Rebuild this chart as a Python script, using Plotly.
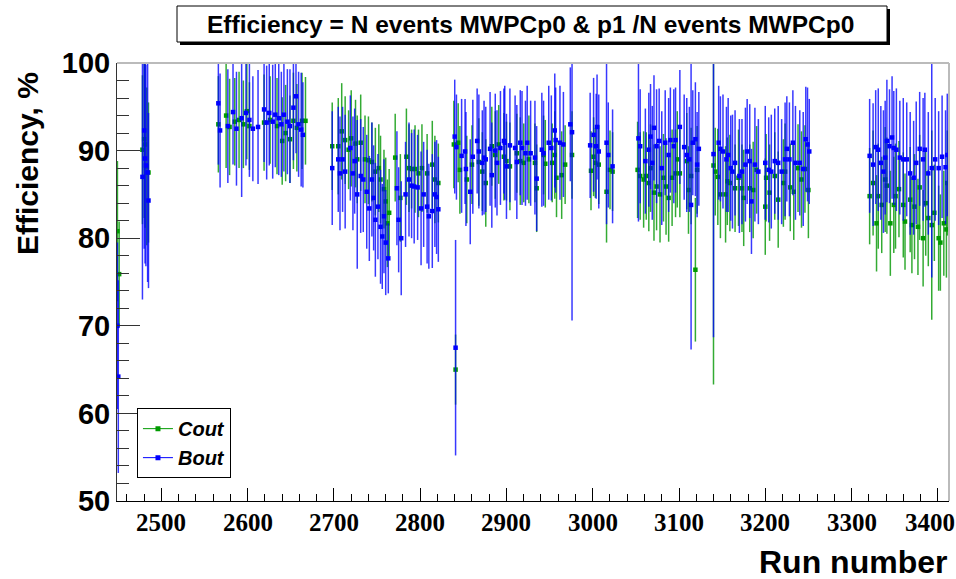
import plotly.graph_objects as go

# ---------------- data: Cout (green) ----------------
cout_run = [
    2449, 2451,
    2478, 2480, 2481, 2483, 2485,
    2566, 2575, 2579, 2585, 2590, 2595, 2599, 2602, 2619, 2626, 2634, 2640, 2644, 2649, 2653, 2657, 2663, 2667,
    2698, 2705, 2709, 2713, 2717, 2720, 2725, 2727, 2731, 2736, 2740, 2744, 2748, 2752, 2754, 2758, 2760, 2762, 2764,
    2771, 2777, 2784, 2787, 2790, 2794, 2798, 2802, 2808, 2814, 2817, 2821,
    2841,
    2839, 2844, 2846, 2854, 2860, 2868, 2872, 2876, 2883, 2887, 2891, 2897, 2900, 2904, 2912, 2916, 2920, 2926,
    2933, 2935, 2943, 2945, 2953, 2956, 2958, 2964, 2968, 2976,
    2998, 3001, 3003, 3007, 3016, 3020, 3023,
    3052, 3055, 3059, 3062, 3065, 3067, 3071, 3074, 3078, 3082, 3085, 3088, 3092, 3096, 3098, 3101, 3109, 3111,
    3114, 3119, 3121,
    3140, 3142, 3145, 3148, 3154, 3156, 3159, 3165, 3169, 3173, 3175, 3182, 3186, 3190, 3200, 3201, 3205, 3211,
    3215, 3221, 3223, 3229, 3233, 3238, 3242, 3246, 3250,
    3321, 3325, 3329, 3331, 3335, 3339, 3341, 3345, 3349, 3351, 3355, 3360, 3362, 3368, 3370, 3373, 3377, 3379,
    3383, 3386, 3389, 3393, 3396, 3401, 3403, 3407, 3410, 3411,
]
cout_eff = [
    80.8, 75.9,
    90.1, 91.3, 90.7, 88.2, 87.5,
    93.0, 94.0, 92.7, 93.3, 93.5, 93.0, 94.5, 92.8, 93.2, 93.5, 92.8, 91.1, 92.0, 91.3, 93.4, 92.6, 93.4, 93.4,
    90.5, 90.5, 92.2, 91.2, 90.1, 91.4, 90.8, 89.0, 90.9, 89.0, 88.9, 88.7, 87.6, 88.0, 86.7, 85.6, 84.2, 81.7, 82.9,
    89.2, 84.6, 89.3, 88.0, 87.9, 87.9, 87.4, 88.0, 87.4, 88.4, 86.7, 86.3,
    65.0,
    90.7, 90.9, 87.8, 86.7, 88.4, 88.7, 87.6, 86.3, 90.5, 89.5, 90.7, 89.3, 88.8, 88.2, 89.7, 88.8, 88.6, 89.0,
    88.6, 85.7, 89.5, 88.5, 88.6, 89.5, 86.9, 87.2, 88.4, 89.5,
    87.7, 89.3, 88.6, 88.4, 85.3, 87.8, 87.6,
    87.8, 87.1, 86.7, 87.1, 86.3, 88.0, 85.2, 85.9, 85.0, 86.9, 85.9, 84.6, 86.9, 87.4, 89.0, 87.4, 88.8, 85.5,
    87.1, 76.4, 87.8,
    88.3, 87.6, 87.0, 85.0, 85.0, 86.5, 86.3, 85.7, 86.9, 85.7, 84.6, 85.7, 85.5, 87.8, 83.6, 86.9, 85.2, 87.1,
    84.4, 86.3, 87.6, 85.8, 85.3, 88.0, 86.7, 87.9, 85.5,
    84.8, 86.3, 81.7, 84.8, 83.8, 86.7, 86.0, 81.7, 83.8, 84.8, 85.6, 83.8, 81.9, 84.4, 81.5, 83.6, 81.3, 85.8,
    80.0, 84.0, 82.3, 81.5, 82.9, 80.0, 79.5, 81.7, 81.0, 86.3,
]
cout_err = [
    8.0, 6.0,
    8.5, 9.0, 9.5, 9.0, 8.0,
    5.5, 6.0, 5.5, 5.0, 5.5, 5.0, 5.5, 5.0, 5.5, 5.0, 5.5, 5.0, 5.5, 5.0, 5.5, 5.0, 5.5, 5.0,
    5.0, 5.5, 5.5, 5.0, 4.5, 5.5, 5.0, 5.0, 5.5, 5.0, 5.0, 4.5, 5.0, 5.0, 5.0, 4.5, 5.0, 5.0, 5.0,
    5.0, 5.0, 5.5, 5.0, 4.5, 5.0, 5.0, 5.0, 4.5, 5.0, 5.0, 4.5,
    4.0,
    5.0, 4.5, 5.0, 5.0, 4.5, 5.0, 4.5, 5.0, 4.5, 5.0, 4.5, 5.0, 4.5, 5.0, 4.5, 5.0, 4.5, 5.0,
    4.5, 5.0, 4.5, 5.0, 4.5, 5.0, 4.5, 5.0, 4.5, 5.0,
    4.5, 4.5, 4.0, 4.5, 5.8, 4.5, 4.5,
    5.5, 5.0, 5.5, 5.0, 5.5, 5.0, 5.5, 5.0, 5.5, 5.0, 5.5, 5.0, 5.5, 5.0, 5.5, 5.0, 5.5, 5.0,
    5.5, 8.2, 5.0,
    25.0, 5.0, 5.5, 5.0, 5.5, 5.0, 5.5, 5.0, 5.5, 5.0, 5.5, 5.0, 5.5, 5.0, 5.5, 5.0, 5.5, 5.0,
    5.5, 5.0, 5.5, 5.0, 5.5, 5.0, 5.5, 5.0, 5.5,
    5.5, 6.0, 5.5, 6.0, 5.5, 6.0, 5.5, 6.0, 5.5, 6.0, 5.5, 6.0, 5.5, 6.0, 5.5, 6.0, 5.5, 6.0,
    5.5, 6.0, 5.5, 10.8, 5.5, 6.0, 5.5, 6.0, 5.5, 6.0,
]

# ---------------- data: Bout (blue) ----------------
bout_run = [
    2449, 2450,
    2478, 2480, 2481, 2482, 2484, 2485,
    2566, 2568, 2577, 2583, 2587, 2593, 2598, 2602, 2606, 2612, 2619, 2622, 2625, 2629, 2632, 2636, 2639, 2642,
    2646, 2649, 2653, 2656, 2659, 2662, 2664,
    2698, 2705, 2707, 2710, 2713, 2719, 2722, 2724, 2727, 2731, 2734, 2738, 2741, 2744, 2746, 2748, 2751, 2754,
    2756, 2758, 2760, 2763,
    2773, 2775, 2778, 2783, 2787, 2790, 2793, 2797, 2801, 2804, 2808, 2810, 2814, 2817, 2819, 2821,
    2841,
    2840, 2842, 2848, 2852, 2853, 2858, 2861, 2866, 2868, 2872, 2874, 2876, 2881, 2883, 2887, 2889, 2893, 2897,
    2898, 2900, 2904, 2910, 2912, 2916, 2918, 2922, 2924, 2928, 2933, 2935, 2941, 2943, 2949, 2952, 2956, 2957,
    2962, 2966, 2974, 2976,
    2997, 3001, 3004, 3005, 3007, 3016, 3018, 3023,
    3053, 3055, 3061, 3065, 3067, 3069, 3071, 3074, 3077, 3080, 3084, 3088, 3090, 3094, 3096, 3101, 3106, 3109,
    3112, 3114, 3116, 3119, 3121, 3123,
    3140, 3146, 3148, 3151, 3155, 3157, 3160, 3162, 3165, 3170, 3173, 3177, 3179, 3182, 3184, 3188, 3192, 3200,
    3204, 3207, 3211, 3215, 3219, 3223, 3225, 3228, 3232, 3235, 3240, 3244, 3247, 3249, 3251,
    3321, 3325, 3328, 3331, 3334, 3337, 3339, 3341, 3344, 3347, 3349, 3352, 3356, 3360, 3364, 3368, 3372, 3375,
    3379, 3383, 3385, 3389, 3393, 3397, 3401, 3405, 3409, 3411,
]
bout_eff = [
    70.0, 64.2,
    87.0, 92.3, 89.1, 88.3, 87.5, 84.3,
    95.4, 92.3, 92.8, 94.4, 92.5, 93.7, 94.3, 93.5, 92.5, 92.7, 94.7, 93.2, 94.3, 93.3, 94.1, 93.7, 93.0, 94.1,
    93.3, 92.8, 94.9, 96.2, 93.0, 92.4, 91.8,
    88.0, 89.0, 87.4, 89.0, 87.6, 90.3, 87.4, 88.8, 85.0, 87.1, 86.7, 85.3, 83.4, 86.7, 84.6, 82.1, 83.6, 81.3,
    80.2, 82.5, 79.5, 77.7,
    85.7, 82.1, 80.0, 85.0, 86.7, 86.0, 85.9, 85.8, 83.4, 85.0, 83.6, 82.5, 83.1, 85.0, 84.7, 83.3,
    67.5,
    91.6, 90.4, 89.4, 89.9, 87.9, 85.3, 89.3, 91.1, 89.9, 88.6, 89.2, 89.0, 90.2, 87.2, 90.0, 88.6, 90.3, 91.1,
    90.9, 88.2, 90.6, 90.3, 88.7, 90.9, 90.3, 89.7, 90.9, 89.7, 89.2, 86.8, 90.1, 89.7, 90.9, 90.3, 92.3, 91.2,
    90.9, 90.7, 93.0, 92.1,
    90.6, 91.8, 90.5, 92.7, 89.9, 90.9, 89.5, 88.2,
    91.4, 90.5, 88.8, 90.1, 91.6, 88.6, 92.6, 90.5, 91.1, 88.0, 90.9, 89.5, 91.2, 90.5, 91.2, 92.7, 90.4, 89.5,
    89.0, 83.8, 90.9, 91.3, 88.4, 90.2,
    89.6, 90.9, 90.2, 89.9, 89.0, 89.5, 88.0, 87.6, 88.6, 87.1, 87.6, 88.4, 89.9, 88.8, 84.2, 88.4, 87.6, 88.6,
    87.8, 87.6, 88.8, 88.6, 87.6, 89.0, 90.2, 89.0, 90.9, 88.6, 88.6, 87.9, 91.3, 90.7, 89.9,
    89.4, 88.4, 90.4, 90.1, 88.6, 87.6, 89.2, 91.1, 90.5, 91.5, 90.3, 90.1, 89.2, 89.0, 89.0, 87.4, 86.9, 88.6,
    90.2, 89.0, 90.1, 87.4, 88.0, 89.0, 88.0, 89.3, 88.1, 89.5,
]
bout_err = [
    9.5, 11.0,
    14.0, 13.5, 12.0, 11.5, 12.5, 10.0,
    7.0, 6.5, 6.5, 6.0, 6.5, 9.0, 6.0, 6.5, 6.0, 6.5, 6.0, 6.5, 6.0, 6.5, 6.0, 6.5, 6.0, 6.5,
    6.0, 6.5, 6.0, 6.5, 6.0, 6.5, 6.0,
    6.5, 6.0, 6.5, 6.0, 6.5, 6.0, 6.5, 6.0, 8.5, 6.5, 6.0, 6.5, 6.0, 6.5, 6.0, 6.5, 6.0, 6.5,
    6.0, 6.5, 6.0, 4.0,
    6.5, 6.0, 6.5, 6.0, 6.5, 6.0, 6.5, 6.0, 6.5, 6.0, 6.5, 6.0, 6.5, 6.0, 6.5, 6.0,
    12.3,
    6.5, 6.0, 6.5, 6.0, 6.5, 6.0, 6.5, 6.0, 6.5, 6.0, 6.5, 6.0, 6.5, 6.0, 6.5, 6.0, 6.5, 6.0,
    6.5, 6.0, 6.5, 6.0, 6.5, 6.0, 6.5, 6.0, 6.5, 6.0, 6.5, 6.0, 6.5, 6.0, 6.5, 6.0, 6.5, 6.0,
    6.5, 6.0, 6.5, 21.5,
    6.0, 6.5, 6.0, 6.0, 6.5, 9.3, 6.0, 6.5,
    9.5, 6.5, 6.0, 6.5, 6.0, 6.5, 6.0, 6.5, 6.0, 6.5, 6.0, 6.5, 6.0, 6.5, 6.0, 6.5, 6.0, 6.5,
    6.0, 16.5, 6.0, 6.5, 6.0, 6.5,
    20.9, 6.5, 6.0, 6.5, 6.0, 6.5, 6.0, 6.5, 6.0, 6.5, 6.0, 6.5, 6.0, 6.5, 6.0, 6.5, 6.0, 6.5,
    6.0, 6.5, 6.0, 6.5, 6.0, 6.5, 6.0, 6.5, 6.0, 6.5, 6.0, 6.5, 6.0, 6.5, 6.0,
    6.5, 7.0, 6.5, 7.0, 6.5, 7.0, 6.5, 7.0, 6.5, 7.0, 6.5, 7.0, 6.5, 7.0, 6.5, 7.0, 6.5, 7.0,
    6.5, 7.0, 6.5, 7.0, 12.5, 7.0, 6.5, 7.0, 6.5, 7.0,
]

x_ticks = [2500, 2600, 2700, 2800, 2900, 3000, 3100, 3200, 3300, 3400]
y_ticks = [50, 60, 70, 80, 90, 100]

GREEN = "#009a00"
GREEN_BAR = "rgba(0,150,0,0.8)"
BLUE = "#0000ff"
BLUE_BAR = "rgba(0,0,255,0.78)"

SANS = "Liberation Sans, Arial, Helvetica, sans-serif"
SERIF = "Liberation Serif, Times New Roman, serif"

fig = go.Figure()

# data points with vertical error bars
fig.add_trace(go.Scatter(
    x=cout_run, y=cout_eff, mode="markers", showlegend=False,
    marker=dict(symbol="square", size=4.5, color=GREEN, line=dict(width=0)),
    error_y=dict(type="data", array=cout_err, width=0, thickness=1.5, color=GREEN_BAR),
    cliponaxis=True,
))
fig.add_trace(go.Scatter(
    x=bout_run, y=bout_eff, mode="markers", showlegend=False,
    marker=dict(symbol="square", size=4.5, color=BLUE, line=dict(width=0)),
    error_y=dict(type="data", array=bout_err, width=0, thickness=1.5, color=BLUE_BAR),
    cliponaxis=True,
))

# legend entries (line + marker)
fig.add_trace(go.Scatter(
    x=[None], y=[None], mode="lines+markers", name="<b><i>Cout</i></b>",
    line=dict(color=GREEN, width=1), marker=dict(symbol="square", size=5, color=GREEN),
))
fig.add_trace(go.Scatter(
    x=[None], y=[None], mode="lines+markers", name="<b><i>Bout</i></b>",
    line=dict(color=BLUE, width=1), marker=dict(symbol="square", size=5, color=BLUE),
))

# run-number labels under the axis; the last one is nudged so it stays on the page
x_labels = [
    dict(text="<b>%d</b>" % v, x=v, xref="x", y=0, yref="paper",
         xanchor="center", yanchor="top", yshift=-6,
         xshift=(-8 if v == x_ticks[-1] else 0), showarrow=False,
         font=dict(family=SERIF, size=25, color="black"))
    for v in x_ticks
]

fig.update_layout(
    width=956, height=579,
    margin=dict(l=117, r=7, t=63, b=78, autoexpand=False),
    paper_bgcolor="white", plot_bgcolor="white",
    showlegend=True,
    legend=dict(
        x=0.024, y=0.212, xanchor="left", yanchor="top",
        bgcolor="white", bordercolor="black", borderwidth=1,
        font=dict(family=SANS, size=20, color="black"),
        itemwidth=30, tracegroupgap=4,
    ),
    xaxis=dict(
        range=[2448.5, 3413], tickvals=x_ticks, showticklabels=False,
        showgrid=False, zeroline=False, automargin=False,
        showline=True, linecolor="black", linewidth=1,
        ticks="inside", ticklen=13, tickcolor="black", tickwidth=1,
        minor=dict(ticks="inside", ticklen=7, dtick=20, tick0=2500, tickcolor="black", showgrid=False),
    ),
    yaxis=dict(
        range=[50, 100], tickvals=y_ticks, ticktext=[str(v) for v in y_ticks],
        showgrid=False, zeroline=False, automargin=False,
        showline=True, linecolor="#333333", linewidth=1,
        ticks="inside", ticklen=23, tickcolor="#333333", tickwidth=1,
        tickfont=dict(family=SANS, size=29, color="black", weight="bold"),
        minor=dict(ticks="inside", ticklen=12, dtick=2, tick0=50, tickcolor="#333333", showgrid=False),
    ),
    shapes=[
        # frame top and right edges
        dict(type="line", xref="paper", yref="paper", x0=0, x1=1, y0=1, y1=1,
             line=dict(color="#bbbbbb", width=2)),
        dict(type="line", xref="paper", yref="paper", x0=1, x1=1, y0=0, y1=1,
             line=dict(color="#bbbbbb", width=2)),
        # title box with shadow
        dict(type="rect", xref="paper", yref="paper",
             x0=(180 - 117) / 832, x1=(890 - 117) / 832,
             y0=1 + (63 - 45) / 438, y1=1 + (63 - 9) / 438,
             line=dict(width=0), fillcolor="black"),
        dict(type="rect", xref="paper", yref="paper",
             x0=(177 - 117) / 832, x1=(887 - 117) / 832,
             y0=1 + (63 - 42) / 438, y1=1 + (63 - 6) / 438,
             line=dict(color="black", width=1), fillcolor="white"),
    ],
    annotations=x_labels + [
        dict(text="<b>Efficiency = N events MWPCp0 & p1 /N events MWPCp0</b>",
             xref="paper", yref="paper", x=(530 - 117) / 832, y=1 + (63 - 24) / 438,
             xanchor="center", yanchor="middle", showarrow=False,
             font=dict(family=SANS, size=24.5, color="black")),
        dict(text="<b>Efficiency, %</b>", textangle=-90,
             xref="paper", yref="paper", x=(27 - 117) / 832, y=(501 - 164) / 438,
             xanchor="center", yanchor="middle", showarrow=False,
             font=dict(family=SANS, size=30, color="black")),
        dict(text="<b>Run number</b>",
             xref="paper", yref="paper", x=(949 - 117) / 832, y=-(562 - 501) / 438,
             xanchor="right", yanchor="middle", showarrow=False,
             font=dict(family=SANS, size=32, color="black")),
    ],
)

fig.write_html("out.html")
